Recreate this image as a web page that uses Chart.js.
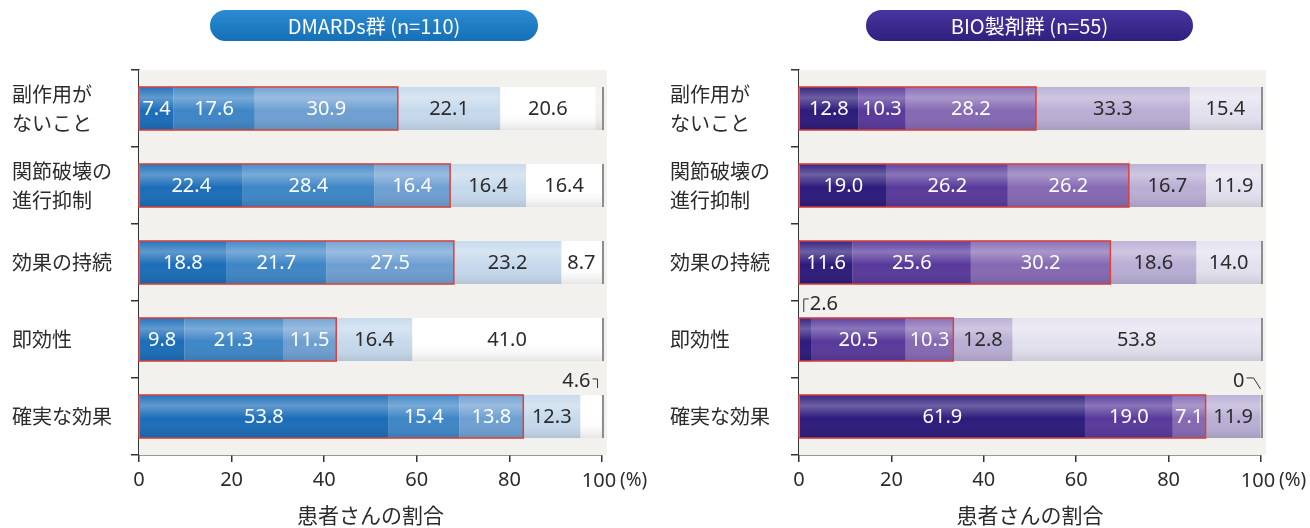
<!DOCTYPE html>
<html lang="ja">
<head>
<meta charset="UTF-8">
<title>患者さんの割合</title>
<script src="https://cdn.jsdelivr.net/npm/chart.js@4/dist/chart.umd.min.js"></script>
<style>
  body { margin: 0; width: 1310px; height: 528px; background: #fff; position: relative; overflow: hidden; font-family: 'Noto Sans CJK JP', sans-serif; }
  .wrap { position: absolute; top: 0; width: 655px; height: 528px; }
  .pill { position: absolute; top: 10px; height: 31px; border-radius: 16px; color: #fff; font-size: 20px; line-height: 31px; text-align: center; font-weight: 400; }
</style>
</head>
<body>
<div class="wrap" style="left:0"><canvas id="dmards" width="655" height="528"></canvas></div>
<div class="wrap" style="left:655px"><canvas id="bio" width="655" height="528"></canvas></div>
<div class="pill" style="left:210px;width:328px;background:linear-gradient(#2b8bd2,#1570b6)">DMARDs群 (n=110)</div>
<div class="pill" style="left:866px;width:327px;background:linear-gradient(#4a35a0,#2f1f7e)">BIO製剤群 (n=55)</div>
<script>
const categories = [['副作用が', 'ないこと'], ['関節破壊の', '進行抑制'], '効果の持続', '即効性', '確実な効果'];
const xTicks = [0, 20, 40, 60, 80, 100];

// DMARDs群 (n=110), five answer levels per row
const dmardsS1 = [7.4, 22.4, 18.8, 9.8, 53.8];
const dmardsS2 = [17.6, 28.4, 21.7, 21.3, 15.4];
const dmardsS3 = [30.9, 16.4, 27.5, 11.5, 13.8];
const dmardsS4 = [22.1, 16.4, 23.2, 16.4, 12.3];
const dmardsS5 = [20.6, 16.4, 8.7, 41.0, 4.6];

// BIO製剤群 (n=55)
const bioS1 = [12.8, 19.0, 11.6, 2.6, 61.9];
const bioS2 = [10.3, 26.2, 25.6, 20.5, 19.0];
const bioS3 = [28.2, 26.2, 30.2, 10.3, 7.1];
const bioS4 = [33.3, 16.7, 18.6, 12.8, 11.9];
const bioS5 = [15.4, 11.9, 14.0, 53.8, 0];

const dmardsColors = ['#1b6db8', '#3e86c6', '#6e9fd2', '#c6d9ec', '#ffffff'];
const bioColors = ['#2c1b7b', '#58399b', '#8569b3', '#b9aed4', '#e4e1ef'];

const axisFont = "'Noto Sans', sans-serif";
const labelFont = '20px ' + axisFont;

const overlay = {
  id: 'overlay',
  beforeDatasetsDraw(chart) {
    const { ctx, chartArea: a } = chart;
    ctx.save();
    ctx.fillStyle = '#f2f1ee';
    ctx.fillRect(a.left, a.top, a.right - a.left + 5, a.bottom - a.top);
    ctx.restore();
  },
  afterDatasetsDraw(chart, args, opts) {
    const { ctx } = chart;
    const x = chart.scales.x;
    const rows = chart.getDatasetMeta(0).data;
    const sets = chart.data.datasets;
    ctx.save();
    rows.forEach((bar, i) => {
      const top = bar.y - bar.height / 2;
      const h = bar.height;
      const x0 = x.getPixelForValue(0);
      const x100 = x.getPixelForValue(100);
      // gloss
      const g = ctx.createLinearGradient(0, top, 0, top + h);
      g.addColorStop(0, 'rgba(255,255,255,0.05)');
      g.addColorStop(0.25, 'rgba(255,255,255,0.3)');
      g.addColorStop(0.55, 'rgba(255,255,255,0)');
      g.addColorStop(1, 'rgba(0,0,0,0.10)');
      ctx.fillStyle = g;
      ctx.fillRect(x0, top, x100 - x0, h);
      // right shadow
      ctx.fillStyle = '#8d8d8d';
      ctx.fillRect(x100, top, 2, h);
      // red frame round the first three levels
      const s3 = sets[0].data[i] + sets[1].data[i] + sets[2].data[i];
      ctx.strokeStyle = '#d8433c';
      ctx.lineWidth = 1.5;
      ctx.strokeRect(x0, top, x.getPixelForValue(s3) - x0, h);
    });
    // value labels
    ctx.font = labelFont;
    ctx.textAlign = 'center';
    ctx.textBaseline = 'middle';
    sets.forEach((ds, d) => {
      chart.getDatasetMeta(d).data.forEach((el, i) => {
        const v = ds.data[i];
        if (v < 5) return;
        ctx.fillStyle = d < 3 ? '#ffffff' : '#2b2b2b';
        ctx.fillText(v.toFixed(1), (el.x + el.base) / 2, el.y + 1);
      });
    });
    // callouts for the thin segments
    ctx.strokeStyle = '#333';
    ctx.lineWidth = 1;
    ctx.fillStyle = '#2b2b2b';
    (opts.callouts || []).forEach(c => {
      const el = chart.getDatasetMeta(c.seg).data[c.row];
      const top = el.y - el.height / 2;
      const v = sets[c.seg].data[c.row];
      const ty = top - 14;
      ctx.beginPath();
      if (c.side === 'right') {
        const e = el.x;
        ctx.textAlign = 'right';
        ctx.fillText(v.toFixed(1), e - 11, ty);
        ctx.moveTo(e - 9, ty - 2); ctx.lineTo(e - 4, ty - 2); ctx.lineTo(e - 4, ty + 7);
      } else if (c.side === 'left') {
        const s = el.base;
        ctx.textAlign = 'left';
        ctx.fillText(v.toFixed(1), s + 10, ty);
        ctx.moveTo(s + 4, ty + 8); ctx.lineTo(s + 4, ty - 5); ctx.lineTo(s + 9, ty - 5);
      } else {
        const e = el.x;
        ctx.textAlign = 'right';
        ctx.fillText(String(v), e - 16, ty);
        ctx.moveTo(e - 14, ty - 3); ctx.lineTo(e - 7, ty - 3); ctx.lineTo(e, ty + 8);
      }
      ctx.stroke();
    });
    // last tick label with its unit
    const a = chart.chartArea;
    const x100 = x.getPixelForValue(100);
    ctx.fillStyle = '#2b2b2b';
    ctx.font = '20px ' + axisFont;
    ctx.textAlign = 'center';
    ctx.fillText(String(xTicks[xTicks.length - 1]), x100 - 3, 481);
    ctx.font = '19px ' + axisFont;
    ctx.textAlign = 'left';
    ctx.fillText('(%)', x100 + 18, 481);
    ctx.textAlign = 'center';
    ctx.font = "21px 'Noto Sans CJK JP', sans-serif";
    ctx.fillText('患者さんの割合', (a.left + a.right) / 2, 515);
    ctx.restore();
  }
};

function makeChart(id, series, colors, padLeft, yWidth, padRight, callouts) {
  new Chart(document.getElementById(id), {
    type: 'bar',
    data: {
      labels: categories,
      datasets: series.map((s, k) => ({
        data: s,
        backgroundColor: colors[k],
        borderWidth: 0,
        barPercentage: 0.56,
        categoryPercentage: 1
      }))
    },
    options: {
      indexAxis: 'y',
      responsive: false,
      animation: false,
      layout: { padding: { left: padLeft, right: padRight, top: 70, bottom: 0 } },
      plugins: {
        legend: { display: false },
        tooltip: { enabled: false },
        overlay: { callouts: callouts }
      },
      scales: {
        x: {
          stacked: true,
          min: 0,
          max: 100,
          afterBuildTicks: s => { s.ticks = xTicks.map(v => ({ value: v })); },
          afterFit: s => { s.height = 73; },
          ticks: {
            font: { family: axisFont, size: 20 },
            color: '#2b2b2b',
            padding: 6,
            callback: v => (v === 100 ? '' : v)
          },
          grid: { drawOnChartArea: false, drawTicks: true, tickLength: 7, color: '#333', lineWidth: 1.5 },
          border: { display: true, color: '#333', width: 1.5 }
        },
        y: {
          stacked: true,
          afterFit: s => { s.width = yWidth; },
          ticks: {
            crossAlign: 'far',
            font: { family: "'Noto Sans CJK JP', sans-serif", size: 20, lineHeight: 1.45 },
            color: '#2b2b2b'
          },
          grid: { offset: true, drawOnChartArea: false, drawTicks: true, tickLength: 8, color: '#333', lineWidth: 1.5 },
          border: { display: true, color: '#333', width: 1.5 }
        }
      }
    },
    plugins: [overlay]
  });
}

makeChart('dmards', [dmardsS1, dmardsS2, dmardsS3, dmardsS4, dmardsS5], dmardsColors, 12, 127, 53,
  [{ row: 4, seg: 4, side: 'right' }]);
makeChart('bio', [bioS1, bioS2, bioS3, bioS4, bioS5], bioColors, 15, 129, 49,
  [{ row: 3, seg: 0, side: 'left' }, { row: 4, seg: 4, side: 'zero' }]);
</script>
</body>
</html>
